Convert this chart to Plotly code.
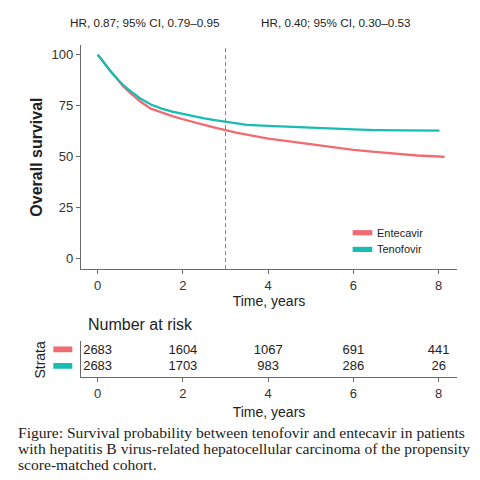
import plotly.graph_objects as go

# ---------------- data ----------------
time_tdf = [0, 0.05, 0.1, 0.15, 0.2, 0.3, 0.4, 0.5, 0.6, 0.75, 1.0, 1.25, 1.5, 1.75,
            2.0, 2.25, 2.5, 2.75, 3.0, 3.25, 3.5, 4.0, 4.5, 5.0, 5.5, 6.0, 6.5, 7.0, 7.5, 8.02]
surv_tdf = [100, 99, 97.5, 96, 94.5, 92, 89.5, 87, 85, 82.5, 78.5, 75.5, 73.5, 72,
            70.8, 69.6, 68.7, 67.9, 67.2, 66.2, 65.5, 65.0, 64.5, 64.0, 63.6, 63.3, 63.0, 62.8, 62.7, 62.7]

time_etv = [0, 0.05, 0.1, 0.15, 0.2, 0.3, 0.4, 0.5, 0.6, 0.75, 1.0, 1.25, 1.5, 1.75,
            2.0, 2.25, 2.5, 2.75, 3.0, 3.25, 3.5, 4.0, 4.5, 5.0, 5.5, 6.0, 6.5, 7.0, 7.5, 8.0, 8.14]
surv_etv = [100, 99, 97.5, 96, 94.5, 92, 89.5, 87, 84.5, 81.5, 77, 73.5, 71.5, 69.8,
            68.3, 66.8, 65.5, 64.2, 62.8, 61.7, 60.8, 58.8, 57.4, 56.0, 54.6, 53.3, 52.3, 51.3, 50.5, 50.0, 49.8]

group_names = ["Entecavir", "Tenofovir"]
risk_times = [0, 2, 4, 6, 8]
risk_etv = [2683, 1604, 1067, 691, 441]
risk_tdf = [2683, 1703, 983, 286, 26]

x_ticks = [0, 2, 4, 6, 8]
y_ticks = [0, 25, 50, 75, 100]
hr_labels = ["HR, 0.87; 95% CI, 0.79\u20130.95", "HR, 0.40; 95% CI, 0.30\u20130.53"]
landmark_year = 3
caption_lines = [
    "Figure: Survival probability between tenofovir and entecavir in patients",
    "with hepatitis B virus-related hepatocellular carcinoma of the propensity",
    "score-matched cohort.",
]

# ---------------- styling / layout ----------------
# the page body has an 8px margin, so the figure is drawn at (8, 8) in the window
OFF = 8
WIN = 480
W = H = WIN - OFF
RED = "#F06B72"
TEAL = "#18BDB2"
AXC = "#6a6a6a"
TXT = "#222222"
SANS = "Liberation Sans, Arial, sans-serif"
SERIF = "Liberation Serif, Times New Roman, serif"

# plot area edges in window pixels
PL, PR, PT, PB = 81, 457.5, 45, 377.5
ML, MR, MT, MB = PL - OFF, WIN - PR, PT - OFF, WIN - PB
PW = PR - PL
PH = PB - PT


def X(xpix):  # window pixel -> paper x
    return (xpix - PL) / PW


def Y(ypix):  # window pixel -> paper y
    return (PB - ypix) / PH


XRANGE = [-0.39, 8.43]

fig = go.Figure()

fig.add_trace(go.Scatter(x=time_etv, y=surv_etv, mode="lines", name=group_names[0],
                         showlegend=False, line=dict(color=RED, width=2.3)))
fig.add_trace(go.Scatter(x=time_tdf, y=surv_tdf, mode="lines", name=group_names[1],
                         showlegend=False, line=dict(color=TEAL, width=2.3)))

for vals, row in [(risk_etv, 1), (risk_tdf, 0)]:
    fig.add_trace(go.Scatter(x=risk_times, y=[row] * len(risk_times), mode="text",
                             text=[str(v) for v in vals], xaxis="x2", yaxis="y2",
                             showlegend=False, cliponaxis=False,
                             textfont=dict(size=13, color=TXT, family=SANS)))

axis_common = dict(showline=True, linecolor=AXC, linewidth=1.2, ticks="outside",
                   ticklen=4, tickcolor=AXC, tickwidth=1.2, showgrid=False,
                   zeroline=False, automargin=False,
                   tickfont=dict(size=13, color="#333", family=SANS))

fig.update_layout(
    width=W, height=H,
    margin=dict(l=ML, r=MR, t=MT, b=MB),
    paper_bgcolor="white", plot_bgcolor="white",
    font=dict(family=SANS, color=TXT),
    showlegend=False,
    xaxis=dict(domain=[0, 1], range=XRANGE, tickvals=x_ticks, anchor="y",
               title=dict(text="Time, years", font=dict(size=14, color=TXT), standoff=0),
               **axis_common),
    yaxis=dict(domain=[Y(269.5), 1], range=[-5.3, 104.75], tickvals=y_ticks, anchor="x",
               title=dict(text="<b>Overall survival</b>", font=dict(size=16, color=TXT), standoff=4),
               **axis_common),
    xaxis2=dict(domain=[0, 1], range=XRANGE, tickvals=x_ticks, anchor="y2",
                title=dict(text="Time, years", font=dict(size=14, color=TXT), standoff=7),
                **axis_common),
    yaxis2=dict(domain=[0, Y(341)], range=[-0.606, 1.606], anchor="x2",
                showline=True, linecolor=AXC, linewidth=1.2, showticklabels=False,
                ticks="", showgrid=False, zeroline=False, automargin=False),
)

# landmark dashed line
fig.add_shape(type="line", xref="x", yref="y domain", x0=landmark_year, x1=landmark_year,
              y0=0, y1=1, line=dict(color="#808080", width=1, dash="4px,3px"))

# strata swatches in the risk table
for yv, col in [(1, RED), (0, TEAL)]:
    fig.add_shape(type="rect", xref="paper", yref="y2", x0=X(53.3), x1=X(72.3),
                  y0=yv - 0.1, y1=yv + 0.24, line=dict(width=0), fillcolor=col)

ann = []
# manual legend (inside plot, bottom right)
for name, col, yc in [(group_names[0], RED, 233), (group_names[1], TEAL, 249.7)]:
    fig.add_shape(type="rect", xref="paper", yref="paper", x0=X(353), x1=X(372.7),
                  y0=Y(yc + 2.6), y1=Y(yc - 2.6), line=dict(width=0), fillcolor=col)
    ann.append(dict(text=name, x=X(375), y=Y(yc), xref="paper", yref="paper",
                    xanchor="left", yanchor="middle", showarrow=False,
                    font=dict(size=11, color=TXT, family=SANS)))

for label, cx in zip(hr_labels, [145, 336]):
    ann.append(dict(text=label, x=X(cx), y=Y(22), xref="paper", yref="paper",
                    xanchor="center", yanchor="middle", showarrow=False,
                    font=dict(size=11.7, color=TXT, family=SANS)))
ann.append(dict(text="Number at risk", x=X(86), y=Y(325), xref="paper", yref="paper",
                xanchor="left", yanchor="middle", showarrow=False,
                font=dict(size=16, color=TXT, family=SANS)))
ann.append(dict(text="Strata", x=X(39), y=Y(360), xref="paper", yref="paper",
                xanchor="center", yanchor="middle", textangle=-90, showarrow=False,
                font=dict(size=14, color=TXT, family=SANS)))
for i, line in enumerate(caption_lines):
    ann.append(dict(text=line, x=X(16), y=Y(433.5 + 16 * i), xref="paper", yref="paper",
                    xanchor="left", yanchor="middle", showarrow=False,
                    font=dict(size=15.6, color=TXT, family=SERIF)))
fig.update_layout(annotations=ann)

fig.write_html("out.html")
